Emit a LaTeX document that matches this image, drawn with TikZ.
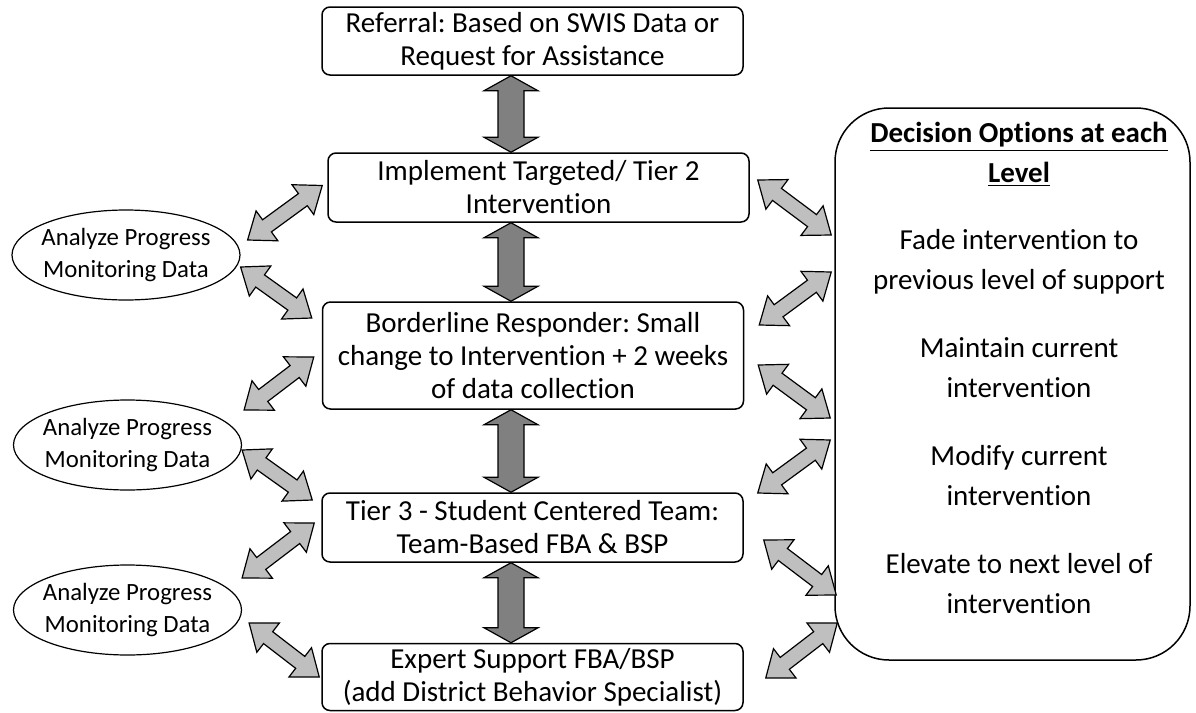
\documentclass[tikz,border=0pt]{standalone}
\usepackage{fontspec}
\setmainfont{Carlito}[Ligatures=NoCommon]
\frenchspacing
\usetikzlibrary{calc, positioning, shapes.geometric}

\tikzset{
    arrow dims/.code n args={3}{\def\arrShaft{#1}\def\arrHead{#2}\def\arrTip{#3}},
    block arrow/.style={
        draw=black, line width=0.6pt,
        to path={
            -- ($(\tikztostart)!\arrTip!(\tikztotarget)!\arrHead!90:(\tikztotarget)$)
            -- ($(\tikztostart)!\arrTip!(\tikztotarget)!\arrShaft!90:(\tikztotarget)$)
            -- ($(\tikztotarget)!\arrTip!(\tikztostart)!\arrShaft!-90:(\tikztostart)$)
            -- ($(\tikztotarget)!\arrTip!(\tikztostart)!\arrHead!-90:(\tikztostart)$)
            -- (\tikztotarget)
            -- ($(\tikztotarget)!\arrTip!(\tikztostart)!\arrHead!90:(\tikztostart)$)
            -- ($(\tikztotarget)!\arrTip!(\tikztostart)!\arrShaft!90:(\tikztostart)$)
            -- ($(\tikztostart)!\arrTip!(\tikztotarget)!\arrShaft!-90:(\tikztotarget)$)
            -- ($(\tikztostart)!\arrTip!(\tikztotarget)!\arrHead!-90:(\tikztotarget)$)
            -- cycle
        }
    },
    uplink/.style={block arrow, fill=gray, arrow dims={6.5pt}{13.5pt}{7.5pt}},
    sidelink/.style={block arrow, fill=gray!50, arrow dims={3.75pt}{9.25pt}{12pt}},
    stage/.style={draw, rounded corners=4pt, line width=0.75pt, align=center,
        minimum width=210.5pt, inner sep=2pt,
        font=\fontsize{14.5}{16.5}\selectfont},
    analyze/.style={draw, ellipse, line width=0.6pt, align=center,
        minimum width=114pt, minimum height=45pt, inner xsep=-3pt, inner ysep=0pt,
        font=\fontsize{12.4}{16}\selectfont},
    options/.style={draw, rounded corners=27pt, line width=0.75pt,
        minimum width=177.5pt, minimum height=276pt}
}

\begin{document}
\begin{tikzpicture}[x=0.5pt, y=-0.5pt]
    \useasboundingbox (0,0) rectangle (1196,713);

    % Levels down the middle
    \node[stage, minimum height=34pt] (ref) at (532.5,41) {Referral: Based on SWIS Data or\\ Request for Assistance};
    \node[stage, minimum height=34.5pt] (impl) at (538.5,187.5) {Implement Targeted/ Tier 2\\ Intervention};
    \node[stage, minimum height=53.5pt] (border) at (533,355.5) {Borderline Responder: Small\\ change to Intervention + 2 weeks\\ of data collection};
    \node[stage, minimum height=34.5pt] (tier3) at (532.5,527.5) {Tier 3 - Student Centered Team:\\ Team-Based FBA \& BSP};
    \node[stage, minimum height=33.5pt] (expert) at (532.5,677) {Expert Support FBA/BSP\\ (add District Behavior Specialist)};

    % Progress monitoring on the left
    \node[analyze] (ana1) at (126,255) {Analyze Progress\\ Monitoring Data};
    \node[analyze] (ana2) at (127.5,445) {Analyze Progress\\ Monitoring Data};
    \node[analyze] (ana3) at (127.5,610) {Analyze Progress\\ Monitoring Data};

    % Decision options on the right
    \node[options] (dec) at (1012.5,384) {};
    \node[align=center, font=\fontsize{14.5}{20}\selectfont] (choices) at (1019,368) {%
        \textbf{\underline{Decision Options at each}}\\
        \textbf{\underline{Level}}\\[13.5pt]
        Fade intervention to\\ previous level of support\\[14pt]
        Maintain current\\ intervention\\[14pt]
        Modify current\\ intervention\\[14pt]
        Elevate to next level of\\ intervention};

    % Main flow
    \coordinate (axis) at (511,0);
    \draw[uplink] (ref.south -| axis) to (impl.north -| axis);
    \draw[uplink] (impl.south -| axis) to (border.north -| axis);
    \draw[uplink] (border.south -| axis) to (tier3.north -| axis);
    \draw[uplink] (tier3.south -| axis) to (expert.north -| axis);

    % Arrow ends, left side
    \coordinate (a1) at ($(ana1.east)+(7,-15)$);
    \coordinate (a2) at ($(ana1.east)+(0,12)$);
    \coordinate (a3) at ($(ana2.east)+(2,-35)$);
    \coordinate (a4) at ($(ana2.east)+(0,5)$);
    \coordinate (a5) at ($(ana3.east)+(0,-32)$);
    \coordinate (a6) at ($(ana3.east)+(7,13)$);
    \coordinate (b1) at ($(impl.west)+(-5,-2)$);
    \coordinate (b2) at ($(border.west)+(-10,-37.5)$);
    \coordinate (b3) at ($(border.west)+(-8,1.5)$);
    \coordinate (b4) at ($(tier3.west)+(-9,-27.5)$);
    \coordinate (b5) at ($(tier3.west)+(-7,-4.5)$);
    \coordinate (b6) at ($(expert.west)+(-2,0)$);

    % Arrow ends, right side
    \coordinate (c1) at ($(impl.east)+(8,-7.5)$);
    \coordinate (c2) at ($(border.east)+(15,-30.5)$);
    \coordinate (c3) at ($(border.east)+(14,9.5)$);
    \coordinate (c4) at ($(tier3.east)+(14,-34.5)$);
    \coordinate (c5) at ($(tier3.east)+(20,12.5)$);
    \coordinate (c6) at ($(expert.east)+(22,1)$);
    \coordinate (d1) at ($(dec.west)+(-3,-149)$);
    \coordinate (d2) at ($(dec.west)+(-3,-112)$);
    \coordinate (d3) at ($(dec.west)+(-4,34)$);
    \coordinate (d4) at ($(dec.west)+(-4,56)$);
    \coordinate (d5) at ($(dec.west)+(2,211)$);
    \coordinate (d6) at ($(dec.west)+(3,239)$);

    \foreach \i in {1,...,6} {
        \draw[sidelink] (a\i) to (b\i);
        \draw[sidelink] (c\i) to (d\i);
    }
\end{tikzpicture}
\end{document}
